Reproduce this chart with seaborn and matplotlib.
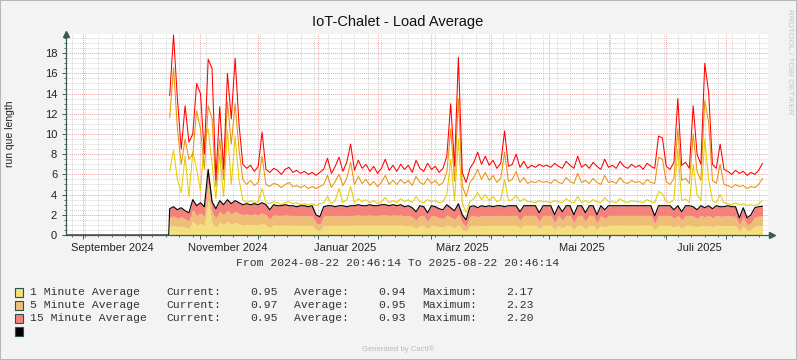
import numpy as np
import pandas as pd
import matplotlib
matplotlib.use("Agg")
import matplotlib.pyplot as plt
import matplotlib.dates as mdates
from matplotlib.ticker import MultipleLocator
from matplotlib.patches import Rectangle
import seaborn as sns

# time range of the graph, samples every 2 days once collection started
t_start = pd.Timestamp("2024-08-22 20:46:14")
t_end = pd.Timestamp("2025-08-22 20:46:14")
first_sample = "2024-10-16"
n_samples = 155
idle_dates = [t_start, pd.Timestamp("2024-10-15 12:00")]  # no data yet -> 0

# stacked areas (1 / 5 / 15 minute load)
load_1min = [
    0.85, 0.95, 0.80, 0.90, 0.75, 0.65, 1.40, 0.95, 1.15, 0.90,
    3.50, 1.15, 0.80, 1.25, 1.00, 1.35, 1.05, 1.25, 1.10, 1.00,
    1.05, 1.00, 1.05, 1.00, 1.15, 1.00, 0.70, 1.00, 0.97, 0.96,
    1.00, 0.97, 0.96, 0.92, 0.97, 0.96, 0.92, 0.97, 0.55, 0.45,
    0.92, 0.97, 0.96, 0.92, 0.97, 0.96, 0.92, 0.97, 0.96, 1.00,
    0.97, 0.96, 1.00, 0.96, 0.97, 1.00, 1.01, 0.96, 1.00, 0.97,
    1.00, 0.92, 0.96, 0.88, 0.68, 0.97, 0.92, 0.62, 0.96, 0.92,
    0.82, 0.78, 1.00, 0.88, 0.72, 1.05, 0.55, 0.35, 0.92, 0.97,
    0.88, 0.96, 0.92, 0.97, 0.92, 0.96, 0.97, 0.92, 0.96, 0.97,
    0.96, 0.68, 0.97, 0.96, 0.97, 0.96, 0.62, 0.97, 0.96, 0.97,
    0.55, 0.96, 0.68, 0.97, 0.96, 0.55, 0.97, 0.96, 0.62, 0.97,
    0.96, 0.55, 0.97, 0.78, 0.96, 0.97, 0.96, 0.97, 0.96, 0.97,
    0.96, 0.97, 0.96, 0.97, 0.96, 0.97, 0.50, 0.97, 0.96, 0.97,
    0.96, 0.78, 0.97, 0.68, 0.96, 0.97, 0.92, 0.78, 0.96, 0.88,
    0.97, 0.82, 0.96, 0.92, 0.92, 0.96, 0.92, 0.92, 0.42, 0.88,
    0.42, 0.55, 0.88, 0.92, 0.95,
]
load_5min = [
    0.88, 0.93, 0.85, 0.90, 0.82, 0.75, 1.10, 0.98, 1.05, 0.95,
    1.70, 1.10, 0.88, 1.10, 1.00, 1.10, 1.03, 1.10, 1.05, 1.00,
    1.03, 1.00, 1.02, 1.00, 1.03, 1.00, 0.85, 1.00, 0.98, 0.98,
    1.00, 0.98, 0.98, 0.94, 0.98, 0.98, 0.94, 0.98, 0.65, 0.60,
    0.94, 0.98, 0.98, 0.94, 0.98, 0.98, 0.94, 0.98, 0.98, 1.00,
    0.98, 0.98, 1.00, 0.98, 0.98, 1.00, 1.00, 0.98, 1.00, 0.98,
    1.00, 0.94, 0.98, 0.91, 0.77, 0.98, 0.94, 0.73, 0.98, 0.94,
    0.88, 0.85, 1.00, 0.91, 0.80, 1.03, 0.65, 0.50, 0.94, 0.98,
    0.91, 0.98, 0.94, 0.98, 0.94, 0.98, 0.98, 0.94, 0.98, 0.98,
    0.98, 0.77, 0.98, 0.98, 0.98, 0.98, 0.73, 0.98, 0.98, 0.98,
    0.65, 0.98, 0.77, 0.98, 0.98, 0.65, 0.98, 0.98, 0.73, 0.98,
    0.98, 0.65, 0.98, 0.85, 0.98, 0.98, 0.98, 0.98, 0.98, 0.98,
    0.98, 0.98, 0.98, 0.98, 0.98, 0.98, 0.62, 0.98, 0.98, 0.98,
    0.98, 0.85, 0.98, 0.77, 0.98, 0.98, 0.94, 0.85, 0.98, 0.91,
    0.98, 0.88, 0.98, 0.94, 0.94, 0.98, 0.94, 0.94, 0.56, 0.91,
    0.56, 0.66, 0.91, 0.94, 0.97,
]
load_15min = [
    0.87, 0.92, 0.85, 0.90, 0.83, 0.80, 1.00, 0.97, 1.00, 0.95,
    1.30, 1.05, 0.92, 1.05, 1.00, 1.05, 1.02, 1.05, 1.05, 1.00,
    1.02, 1.00, 1.03, 1.00, 1.02, 1.00, 0.95, 1.00, 0.95, 0.96,
    1.00, 0.95, 0.96, 0.94, 0.95, 0.96, 0.94, 0.95, 0.80, 0.75,
    0.94, 0.95, 0.96, 0.94, 0.95, 0.96, 0.94, 0.95, 0.96, 1.00,
    0.95, 0.96, 1.00, 0.96, 0.95, 1.00, 0.99, 0.96, 1.00, 0.95,
    1.00, 0.94, 0.96, 0.91, 0.85, 0.95, 0.94, 0.85, 0.96, 0.94,
    0.90, 0.87, 1.00, 0.91, 0.88, 1.02, 0.80, 0.65, 0.94, 0.95,
    0.91, 0.96, 0.94, 0.95, 0.94, 0.96, 0.95, 0.94, 0.96, 0.95,
    0.96, 0.85, 0.95, 0.96, 0.95, 0.96, 0.85, 0.95, 0.96, 0.95,
    0.80, 0.96, 0.85, 0.95, 0.96, 0.80, 0.95, 0.96, 0.85, 0.95,
    0.96, 0.80, 0.95, 0.87, 0.96, 0.95, 0.96, 0.95, 0.96, 0.95,
    0.96, 0.95, 0.96, 0.95, 0.96, 0.95, 0.78, 0.95, 0.96, 0.95,
    0.96, 0.87, 0.95, 0.85, 0.96, 0.95, 0.94, 0.87, 0.96, 0.91,
    0.95, 0.90, 0.96, 0.94, 0.94, 0.96, 0.94, 0.94, 0.72, 0.91,
    0.72, 0.79, 0.91, 0.94, 0.93,
]

# peak lines drawn over the areas
peak_yellow = [
    6.3, 8.4, 5.5, 4.2, 7.8, 3.8, 8.2, 6.5, 4.4, 9.5,
    10.5, 7.0, 3.6, 8.0, 3.8, 10.4, 5.0, 9.8, 5.5, 3.5,
    3.2, 3.4, 3.2, 3.3, 4.6, 3.2, 3.1, 3.3, 3.2, 3.0,
    3.2, 3.3, 3.1, 3.2, 3.0, 3.1, 3.0, 3.1, 2.9, 3.1,
    3.2, 3.8, 3.1, 3.4, 4.6, 3.2, 3.5, 4.8, 3.2, 3.6,
    3.3, 3.5, 3.2, 3.4, 3.1, 3.3, 3.7, 3.2, 3.4, 3.2,
    3.6, 3.3, 3.5, 3.2, 3.8, 3.3, 3.2, 3.5, 3.3, 3.4,
    3.2, 3.3, 4.0, 7.5, 3.4, 9.5, 3.2, 2.2, 3.3, 3.6,
    4.2, 3.5, 4.0, 3.4, 3.8, 3.3, 3.5, 5.5, 3.4, 3.5,
    3.9, 3.3, 3.6, 3.3, 3.3, 3.2, 3.4, 3.3, 3.3, 3.2,
    3.4, 3.3, 3.2, 3.6, 3.3, 3.2, 3.8, 3.2, 3.4, 3.2,
    3.5, 3.3, 3.2, 3.7, 3.3, 3.3, 3.2, 3.6, 3.3, 3.2,
    3.4, 3.3, 3.3, 3.2, 3.5, 3.3, 3.2, 4.3, 4.1, 3.3,
    3.2, 3.5, 8.5, 3.4, 3.6, 3.2, 7.0, 4.0, 3.4, 9.5,
    5.5, 3.4, 3.2, 4.0, 3.2, 3.1, 3.0, 3.2, 3.0, 3.1,
    2.9, 3.0, 2.9, 3.1, 3.4,
]
peak_orange = [
    11.6, 16.6, 10.5, 7.0, 9.5, 7.5, 8.0, 12.3, 10.5, 6.5,
    12.8, 11.5, 4.8, 9.5, 5.5, 13.2, 9.0, 13.0, 8.5, 5.5,
    5.0, 5.4, 4.9, 5.2, 7.8, 5.0, 4.8, 5.1, 5.0, 4.7,
    5.0, 5.2, 4.8, 4.9, 4.7, 4.9, 4.6, 4.8, 4.6, 4.8,
    5.0, 5.9, 4.7, 5.3, 6.0, 4.9, 5.6, 7.2, 5.0, 5.8,
    5.1, 5.5, 4.9, 5.3, 4.8, 5.2, 5.9, 5.0, 5.4, 5.0,
    5.5, 5.1, 5.4, 4.9, 5.8, 5.2, 5.0, 5.6, 5.1, 5.4,
    4.9, 5.2, 6.2, 10.5, 5.3, 13.5, 4.9, 3.8, 5.2, 5.7,
    6.5, 5.5, 6.2, 5.4, 5.9, 5.2, 5.6, 8.2, 5.3, 5.5,
    6.3, 5.2, 5.7, 5.1, 5.3, 5.2, 5.4, 5.2, 5.3, 5.1,
    5.5, 5.2, 5.1, 5.7, 5.3, 5.1, 6.1, 5.2, 5.4, 5.1,
    5.6, 5.2, 5.0, 5.9, 5.2, 5.3, 5.1, 5.7, 5.2, 5.1,
    5.4, 5.2, 5.3, 5.0, 5.5, 5.2, 5.1, 7.7, 7.5, 5.3,
    5.0, 5.6, 10.5, 5.4, 5.6, 5.1, 10.0, 6.3, 5.4, 13.3,
    11.2, 5.4, 5.1, 7.0, 5.0, 4.9, 4.7, 5.0, 4.8, 4.9,
    4.6, 4.8, 4.7, 5.0, 5.6,
]
peak_red = [
    13.8, 19.8, 13.5, 8.5, 12.8, 9.2, 10.0, 15.0, 14.0, 8.0,
    17.4, 16.5, 5.5, 12.7, 6.5, 16.0, 11.5, 17.5, 11.0, 7.0,
    6.6, 6.9, 6.3, 6.8, 10.2, 6.5, 6.2, 6.6, 6.4, 6.0,
    6.5, 6.7, 6.2, 6.4, 6.1, 6.3, 6.0, 6.2, 5.9, 6.2,
    6.5, 7.6, 6.1, 6.8, 7.7, 6.3, 7.2, 9.0, 6.4, 7.4,
    6.6, 7.0, 6.3, 6.8, 6.1, 6.6, 7.5, 6.4, 6.9, 6.3,
    7.0, 6.5, 6.9, 6.2, 7.4, 6.6, 6.3, 7.1, 6.5, 6.8,
    6.2, 6.6, 7.8, 13.0, 6.8, 17.6, 6.2, 5.2, 6.6, 7.2,
    8.2, 7.0, 7.8, 6.9, 7.4, 6.6, 7.1, 10.3, 6.8, 7.0,
    8.0, 6.7, 7.3, 6.6, 6.9, 6.7, 7.0, 6.8, 6.9, 6.7,
    7.1, 6.8, 6.6, 7.3, 6.9, 6.6, 7.8, 6.7, 7.0, 6.6,
    7.2, 6.8, 6.5, 7.5, 6.7, 6.9, 6.6, 7.3, 6.8, 6.6,
    7.0, 6.7, 6.9, 6.5, 7.1, 6.8, 6.6, 9.8, 9.6, 6.8,
    6.5, 7.2, 13.5, 6.9, 7.2, 6.6, 12.8, 8.0, 7.0, 17.0,
    14.2, 7.0, 6.6, 9.0, 6.5, 6.3, 6.0, 6.4, 6.1, 6.3,
    5.9, 6.2, 6.0, 6.4, 7.1,
]

month_labels = ["September 2024", "November 2024", "Januar 2025",
                "März 2025", "Mai 2025", "Juli 2025"]
month_label_dates = ["2024-09-16", "2024-11-15", "2025-01-15",
                     "2025-03-17", "2025-05-18", "2025-07-18"]

legend_rows = [
    ("1 Minute Average", "0.95", "0.94", "2.17", "#F3DF7C"),
    ("5 Minute Average", "0.97", "0.95", "2.23", "#EEBE78"),
    ("15 Minute Average", "0.95", "0.93", "2.20", "#F5827A"),
]

# ---- figure ----
sns.set_theme(style="white")
plt.rcParams["font.family"] = ["Liberation Sans", "DejaVu Sans"]

W, H = 797, 360
fig = plt.figure(figsize=(W / 100, H / 100), dpi=100, facecolor="#F3F3F3")
fig.patches.append(Rectangle((0, 0), 1, 1, transform=fig.transFigure, fill=False,
                             edgecolor="#B8B8B8", linewidth=1.5))

def fx(px):
    return px / W

def fy(py):
    return 1 - py / H

ax = fig.add_axes([fx(65.5), fy(235), (768 - 65.5) / W, (235 - 34) / H])
ax.set_facecolor("white")

dates = pd.date_range(first_sample, periods=n_samples, freq="2D")
a1 = np.array(load_1min)
a2 = np.array(load_5min)
a3 = np.array(load_15min)
s1 = a1
s2 = a1 + a2
s3 = a1 + a2 + a3

ax.fill_between(dates, 0, s1, color="#F3DF7C", linewidth=0, zorder=2)
ax.fill_between(dates, s1, s2, color="#EEBE78", linewidth=0, zorder=2)
ax.fill_between(dates, s2, s3, color="#F5827A", linewidth=0, zorder=2)

sns.lineplot(x=dates, y=peak_yellow, ax=ax, color="#E8CC00", linewidth=0.75,
             estimator=None, zorder=3)
sns.lineplot(x=dates, y=peak_orange, ax=ax, color="#E8940A", linewidth=0.75,
             estimator=None, zorder=3)
sns.lineplot(x=dates, y=peak_red, ax=ax, color="#FF0000", linewidth=0.75,
             estimator=None, zorder=3)

all_dates = pd.DatetimeIndex(idle_dates).append(dates)
total = np.concatenate([[0.0, 0.0], s3])
sns.lineplot(x=all_dates, y=total, ax=ax, color="black", linewidth=0.8,
             estimator=None, zorder=4)

ax.set_xlim(t_start, t_end)
ax.set_ylim(0, 19.9)

# grids like rrdtool: weekly minor, monthly major
ax.xaxis.set_major_locator(mdates.MonthLocator())
ax.xaxis.set_minor_locator(mdates.WeekdayLocator(byweekday=mdates.MO))
ax.xaxis.set_major_formatter(plt.NullFormatter())
ax.yaxis.set_major_locator(MultipleLocator(2))
ax.yaxis.set_minor_locator(MultipleLocator(0.5))
ax.grid(which="minor", color="#D4D4D4", linestyle=(0, (1, 1)), linewidth=0.7, zorder=1)
ax.grid(which="major", color="#E9A3A3", linestyle=(0, (1, 1)), linewidth=0.7, zorder=1)
ax.set_axisbelow(True)

axis_col = "#3A5A55"
for side in ["top", "right"]:
    ax.spines[side].set_visible(False)
for side in ["left", "bottom"]:
    ax.spines[side].set_color(axis_col)
    ax.spines[side].set_linewidth(0.9)
    ax.spines[side].set_zorder(5)
ax.tick_params(which="major", length=3, width=0.7, color=axis_col, direction="out",
               labelsize=8, labelcolor="#222222", pad=3)
ax.tick_params(which="minor", length=1.5, width=0.6, color=axis_col, direction="out")
ax.tick_params(axis="x", which="both", bottom=True)
ax.tick_params(axis="y", which="both", left=True)
ax.set_yticks(range(0, 19, 2))

# arrow heads at axis ends
ax.plot([0], [1.0], marker="^", markersize=4, color=axis_col, transform=ax.transAxes,
        clip_on=False, zorder=6)
ax.plot([1.006], [0], marker=">", markersize=4, color=axis_col, transform=ax.transAxes,
        clip_on=False, zorder=6)
ax.set_xlabel("")
ax.set_ylabel("")

for lab, d in zip(month_labels, month_label_dates):
    ax.text(pd.Timestamp(d), -0.04, lab, transform=ax.get_xaxis_transform(),
            ha="center", va="top", fontsize=8, color="#222222")

# texts around the plot
fig.text(fx(398), fy(22), "IoT-Chalet - Load Average", ha="center", va="center",
         fontsize=10.5, color="#111111")
fig.text(fx(10), fy(134), "run que length", rotation=90, ha="center", va="center",
         fontsize=7.5, color="#222222")
fig.text(fx(789), fy(62), "RRDTOOL / TOBI OETIKER", rotation=270, ha="center",
         va="center", fontsize=6, color="#C4C4C4")

mono = ["Liberation Mono", "DejaVu Sans Mono"]
fig.text(fx(398), fy(263), "From 2024-08-22 20:46:14 To 2025-08-22 20:46:14",
         ha="center", va="center", fontsize=8.2, family=mono, color="#333333")

row_y = [292, 305, 318]
for (name, cur, avg, mx, col), y in zip(legend_rows, row_y):
    fig.patches.append(Rectangle((fx(15), fy(y + 4.5)), 8 / W, 9 / H,
                                 transform=fig.transFigure, facecolor=col,
                                 edgecolor="#2F4F4F", linewidth=0.8))
    kw = dict(va="center", fontsize=8.2, family=mono, color="#333333")
    fig.text(fx(30), fy(y), name, ha="left", **kw)
    fig.text(fx(166), fy(y), "Current:", ha="left", **kw)
    fig.text(fx(278), fy(y), cur, ha="right", **kw)
    fig.text(fx(294), fy(y), "Average:", ha="left", **kw)
    fig.text(fx(406), fy(y), avg, ha="right", **kw)
    fig.text(fx(422), fy(y), "Maximum:", ha="left", **kw)
    fig.text(fx(534), fy(y), mx, ha="right", **kw)
fig.patches.append(Rectangle((fx(15), fy(331 + 4.5)), 8 / W, 9 / H,
                             transform=fig.transFigure, facecolor="black",
                             edgecolor="#2F4F4F", linewidth=0.8))

fig.text(fx(398), fy(349), "Generated by Cacti®", ha="center", va="center",
         fontsize=5.5, color="#BBBBBB")

fig.savefig("out.png", dpi=100, facecolor=fig.get_facecolor())
